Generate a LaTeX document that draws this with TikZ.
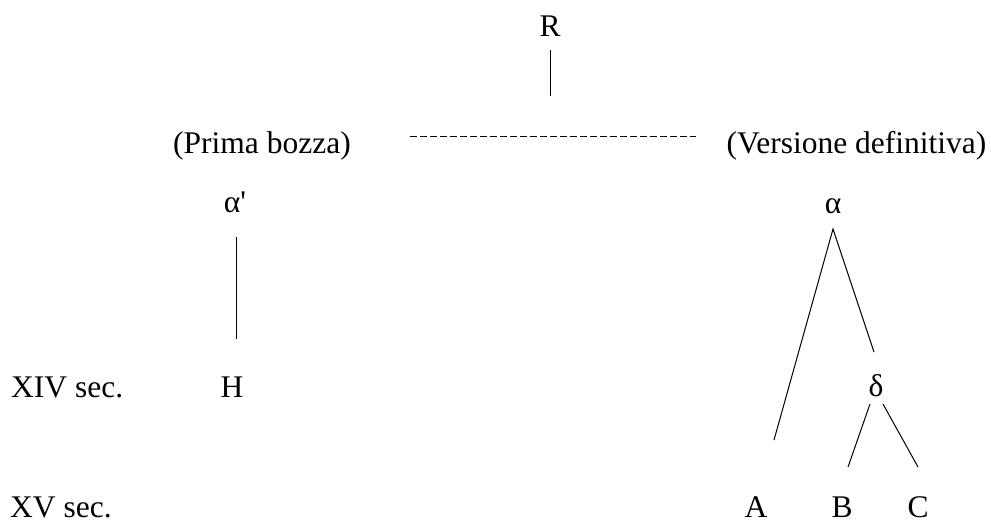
\documentclass[tikz,border=0pt]{standalone}
\usepackage{fontspec}
\setmainfont{Liberation Serif}
\newfontfamily\rawserif[Ligatures=TeXOff]{Liberation Serif}
\begin{document}
\begin{tikzpicture}[x=1pt,y=-1pt,
  lbl/.style={anchor=base,inner sep=0pt,font=\fontsize{31.5}{36}\selectfont},
  lblw/.style={lbl,anchor=base west},
  edge/.style={line width=1pt},
  dashedge/.style={line width=1pt,dash pattern=on 6.5pt off 3.5pt}]
\useasboundingbox[fill=white] (0,0) rectangle (991,523);
% labels
\node[lbl] (R) at (550,36) {R};
\node[lbl] (prima) at (262,153) {(Prima bozza)};
\node[lbl] (vers) at (856.5,153) {(Versione definitiva)};
\node[lbl] (alphap) at (235,212) {\rawserif α'};
\node[lbl] (alpha) at (833,213) {α};
\node[lbl] (H) at (232,397) {H};
\node[lbl] (delta) at (876,396) {δ};
\node[lblw] (xiv) at (11,397) {XIV sec.};
\node[lblw] (xv) at (10,517) {XV sec.};
\node[lbl] (A) at (756,517) {A};
\node[lbl] (B) at (842,517) {B};
\node[lbl] (C) at (918,517) {C};
% connector ends
\coordinate (Rtop) at (550,50);
\coordinate (Rbot) at (550,96);
\coordinate (dL) at (410,136);
\coordinate (dR) at (696,136);
\coordinate (apT) at (236,237);
\coordinate (apB) at (236,339);
\coordinate (apex) at (833,229);
\coordinate (toA) at (774,440);
\coordinate (toD) at (874,352);
\coordinate (dB1) at (870,404);
\coordinate (dB2) at (848,467);
\coordinate (dC1) at (883,404);
\coordinate (dC2) at (918,467);
% connectors
\draw[edge] (Rtop) -- (Rbot);
\draw[dashedge] (dL) -- (dR);
\draw[edge] (apT) -- (apB);
\draw[edge] (toA) -- (apex) -- (toD);
\draw[edge] (dB1) -- (dB2);
\draw[edge] (dC1) -- (dC2);
\end{tikzpicture}
\end{document}
